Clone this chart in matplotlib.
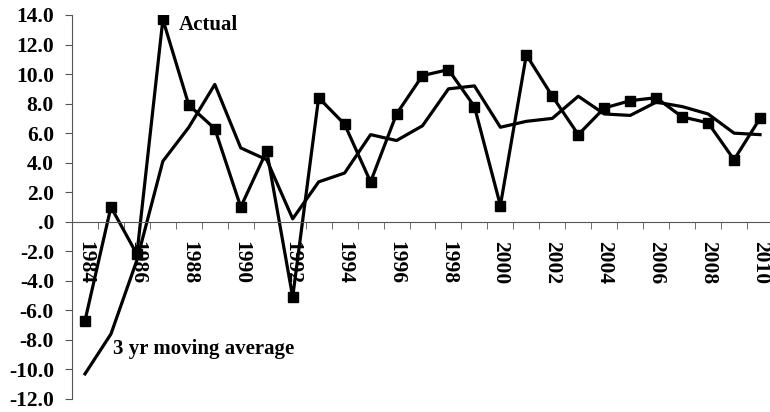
import numpy as np
import matplotlib
matplotlib.use("Agg")
import matplotlib.pyplot as plt

years = list(range(1984, 2011))
actual = [-6.7, 1.0, -2.2, 13.7, 7.9, 6.3, 1.0, 4.8, -5.1, 8.4, 6.6, 2.7, 7.3,
          9.9, 10.3, 7.8, 1.1, 11.3, 8.5, 5.9, 7.7, 8.2, 8.4, 7.1, 6.7, 4.2, 7.0]
moving_avg = [-10.3, -7.6, -2.6, 4.1, 6.4, 9.3, 5.0, 4.2, 0.2, 2.7, 3.3, 5.9, 5.5,
              6.5, 9.0, 9.2, 6.4, 6.8, 7.0, 8.5, 7.3, 7.2, 8.1, 7.8, 7.3, 6.0, 5.9]
y_ticks = list(range(-12, 15, 2))

plt.rcParams['font.family'] = 'Liberation Serif'
plt.rcParams['font.weight'] = 'bold'

fig = plt.figure(figsize=(7.7, 4.12), dpi=100)
ax = fig.add_axes([72 / 770, 13 / 412, 701 / 770, 384 / 412])

x = np.arange(len(years))
ax.plot(x, moving_avg, color='black', lw=2.3)
ax.plot(x, actual, color='black', lw=2.3, marker='s', markersize=7.5)

ax.set_xlim(-0.5, len(years) - 0.5)
ax.set_ylim(-12, 14)

for s in ['top', 'right']:
    ax.spines[s].set_visible(False)
ax.spines['bottom'].set_position(('data', 0))
axis_col = '#555555'
ax.spines['bottom'].set_color(axis_col)
ax.spines['left'].set_color(axis_col)

# year labels on every other category, tick marks between categories
ax.set_xticks(x[::2])
ax.set_xticklabels([str(y) for y in years[::2]], rotation=270, fontsize=15.5,
                   fontweight='bold')
ax.set_xticks(np.arange(len(years) + 1) - 0.5, minor=True)
ax.tick_params(axis='x', which='major', length=0, pad=14)
ax.tick_params(axis='x', which='minor', length=5, direction='out', color=axis_col)

ax.set_yticks(y_ticks)
ax.set_yticklabels(['.0' if v == 0 else f'{v:.1f}' for v in y_ticks], fontsize=15.5,
                   fontweight='bold')
ax.tick_params(axis='y', length=5, direction='out', color=axis_col, pad=8)

ax.text(3.62, 13.3, 'Actual', fontsize=15, fontweight='bold', ha='left', va='center')
ax.text(1.07, -8.6, '3 yr moving average', fontsize=15, fontweight='bold',
        ha='left', va='center')

fig.savefig('out.png', dpi=100)
